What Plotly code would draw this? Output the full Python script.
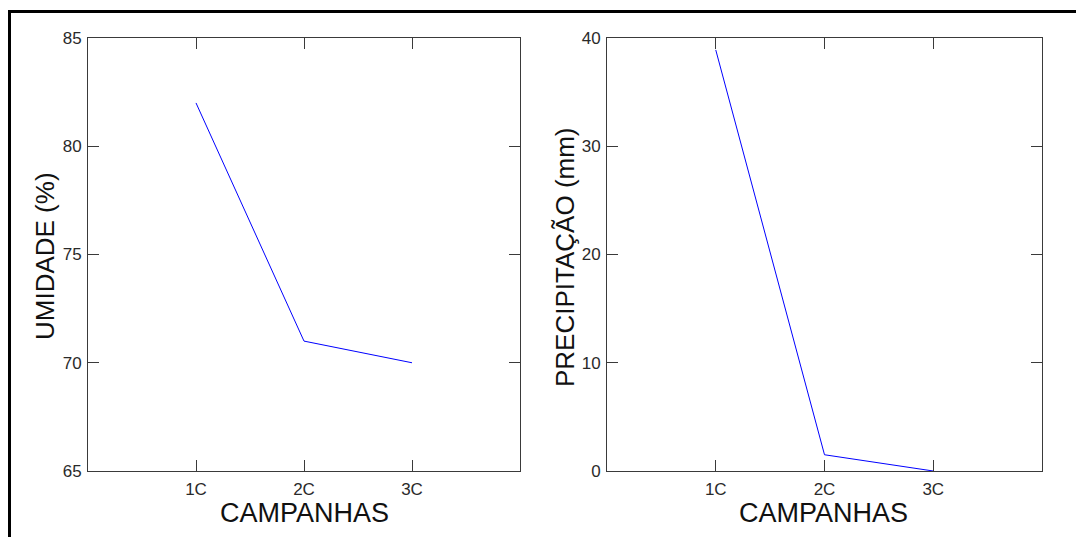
import plotly.graph_objects as go

# Campaign data
campanhas = ["1C", "2C", "3C"]
campanha_pos = [1, 2, 3]
umidade = [82.0, 71.0, 70.0]
precipitacao = [38.9, 1.5, 0.0]

W, H = 1076, 537
FONT = "Liberation Sans, Arial, sans-serif"
AXCOL = "#3a3a3a"

def px(x):
    return x / W

def py(y):
    return 1 - y / H

fig = go.Figure()
fig.add_trace(go.Scatter(x=campanha_pos, y=umidade, mode="lines",
                         line=dict(color="#0000ff", width=1),
                         xaxis="x", yaxis="y", showlegend=False))
fig.add_trace(go.Scatter(x=campanha_pos, y=precipitacao, mode="lines",
                         line=dict(color="#0000ff", width=1),
                         xaxis="x2", yaxis="y2", showlegend=False))

common_x = dict(range=[0, 4], tickvals=campanha_pos, ticktext=campanhas,
                ticks="inside", ticklen=11, tickcolor=AXCOL, tickwidth=1,
                showline=True, linecolor=AXCOL, linewidth=1, mirror="ticks",
                showgrid=False, zeroline=False, automargin=False,
                tickfont=dict(family=FONT, size=17, color="#2a2a2a"),
                ticklabelstandoff=3, fixedrange=True)
common_y = dict(ticks="inside", ticklen=11, tickcolor=AXCOL, tickwidth=1,
                showline=True, linecolor=AXCOL, linewidth=1, mirror="ticks",
                showgrid=False, zeroline=False, automargin=False,
                tickfont=dict(family=FONT, size=17, color="#2a2a2a"),
                ticklabelstandoff=2, fixedrange=True)

ydom = [py(471), py(38)]
fig.update_layout(
    width=W, height=H,
    margin=dict(l=0, r=0, t=0, b=0, autoexpand=False),
    paper_bgcolor="white", plot_bgcolor="white",
    xaxis=dict(domain=[px(88), px(520)], anchor="y", **common_x),
    yaxis=dict(domain=ydom, anchor="x", range=[65, 85],
               tickvals=[65, 70, 75, 80, 85], **common_y),
    xaxis2=dict(domain=[px(607), px(1042)], anchor="y2", **common_x),
    yaxis2=dict(domain=ydom, anchor="x2", range=[0, 40],
                tickvals=[0, 10, 20, 30, 40], **common_y),
    font=dict(family=FONT),
)

xtitle_font = dict(family=FONT, size=27, color="#111")
ytitle_font = dict(family=FONT, size=26, color="#111")
annotations = [
    dict(text="CAMPANHAS", x=px(304), y=py(513), xref="paper", yref="paper",
         showarrow=False, font=xtitle_font, xanchor="center", yanchor="middle"),
    dict(text="CAMPANHAS", x=px(823), y=py(513), xref="paper", yref="paper",
         showarrow=False, font=xtitle_font, xanchor="center", yanchor="middle"),
    dict(text="UMIDADE (%)", x=px(45), y=py(256), xref="paper", yref="paper",
         showarrow=False, font=ytitle_font, textangle=-90,
         xanchor="center", yanchor="middle"),
    dict(text="PRECIPITAÇÃO (mm)", x=px(565), y=py(257), xref="paper", yref="paper",
         showarrow=False, font=ytitle_font, textangle=-90,
         xanchor="center", yanchor="middle"),
]
fig.update_layout(annotations=annotations)

# Outer frame lines (top and left)
fig.add_shape(type="line", xref="paper", yref="paper",
              x0=px(8), x1=1, y0=py(11.5), y1=py(11.5),
              line=dict(color="black", width=3))
fig.add_shape(type="line", xref="paper", yref="paper",
              x0=px(9.5), x1=px(9.5), y0=py(10), y1=0,
              line=dict(color="black", width=3))

fig.write_html("out.html")
